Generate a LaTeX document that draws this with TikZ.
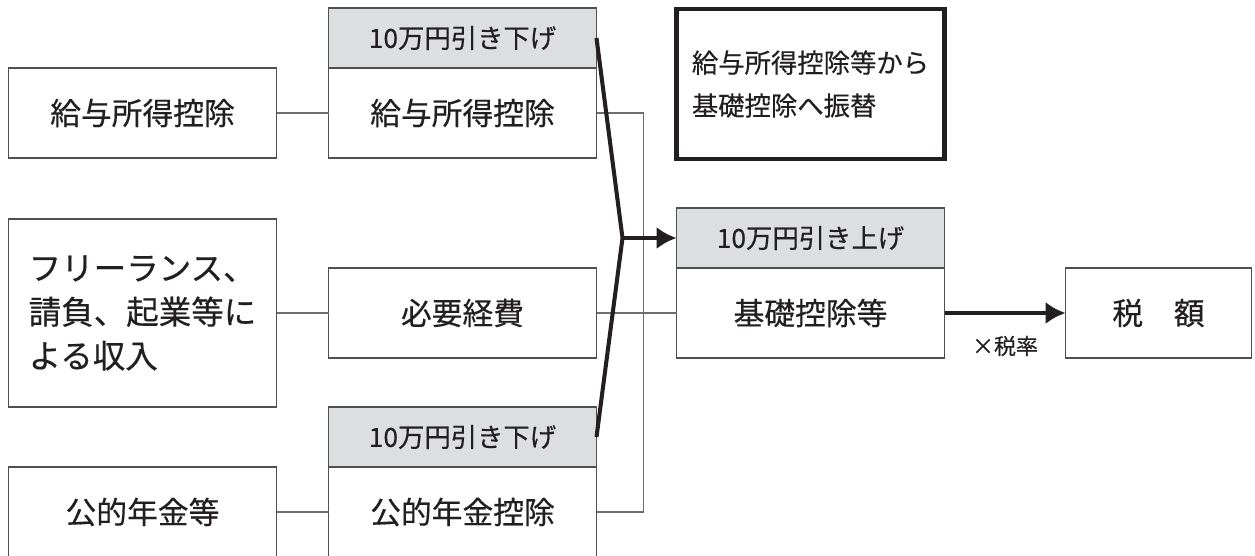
\documentclass[tikz,border=0pt]{standalone}
\usepackage{fontspec}
\setmainfont{Noto Sans CJK JP}[FakeBold=0.4]
\usepackage{tikz}
\usetikzlibrary{positioning}
\usetikzlibrary{arrows.meta}

\definecolor{boxline}{RGB}{80,80,80}
\definecolor{linkline}{RGB}{110,110,110}
\definecolor{headfill}{RGB}{221,222,224}
\definecolor{ink}{RGB}{35,31,32}

\tikzset{
  box/.style={draw=boxline, line width=0.6pt, fill=white, text=ink, outer sep=0pt,
    minimum width=5.36cm, minimum height=1.8cm, inner sep=0pt,
    font=\fontsize{17.5}{21}\selectfont},
  headbox/.style={box, fill=headfill, minimum height=1.2cm,
    font=\fontsize{15}{18}\selectfont},
  link/.style={draw=linkline, line width=0.6pt},
  heavy/.style={draw=ink, line width=2.3pt},
}

\begin{document}
\begin{tikzpicture}
    \useasboundingbox (0,0) rectangle (25.1,-11.1);
    \clip (0,0) rectangle (25.1,-11.1);
    % nodes %
    \node[box] (sal) at (2.85,-2.26) {給与所得控除};
    \node[box, right=1.04cm of sal] (saldd) {給与所得控除};
    \node[headbox, above=0cm of saldd] (salcut) {10万円引き下げ};
    \node[box, minimum height=3.76cm, align=left, below=1.22cm of sal,
      font=\fontsize{18.5}{25}\selectfont] (free) {フリーランス、\\請負、起業等に\\よる収入};
    \node[box, right=1.04cm of free] (cost) {必要経費};
    \node[box, below=1.2cm of free] (pension) {公的年金等};
    \node[box, right=1.04cm of pension] (pensdd) {公的年金控除};
    \node[headbox, above=0cm of pensdd] (penscut) {10万円引き下げ};
    \node[box, right=1.6cm of cost] (basic) {基礎控除等};
    \node[headbox, above=0cm of basic] (basicup) {10万円引き上げ};
    \node[box, minimum height=3cm, line width=2.3pt, draw=ink, align=left,
      above=0.98cm of basicup, font=\fontsize{15}{24.4}\selectfont] (memo) {給与所得控除等から\\基礎控除へ振替};
    \node[box, minimum width=3.72cm, right=2.42cm of basic] (tax) {税\hspace{1em}額};
    \coordinate[left=1.08cm of basicup] (fork);
    % edges %
    \draw[link] (sal) -- (saldd);
    \draw[link] (free) -- (cost);
    \draw[link] (pension) -- (pensdd);
    \draw[link] (cost) -- (basic);
    \draw[link] (saldd.east) -- ++(0.94,0) |- (pensdd.east);
    \draw[heavy, line join=miter] (salcut.east) -- (fork) -- (penscut.east);
    \draw[heavy, -{Latex[length=0.4cm, width=0.45cm]}] (fork) -- (basicup);
    \draw[heavy, -{Latex[length=0.4cm, width=0.45cm]}] (basic) -- (tax)
      node[midway, below=0.3cm, text=ink, font=\fontsize{12.5}{15}\selectfont] {×税率};
\end{tikzpicture}
\end{document}
